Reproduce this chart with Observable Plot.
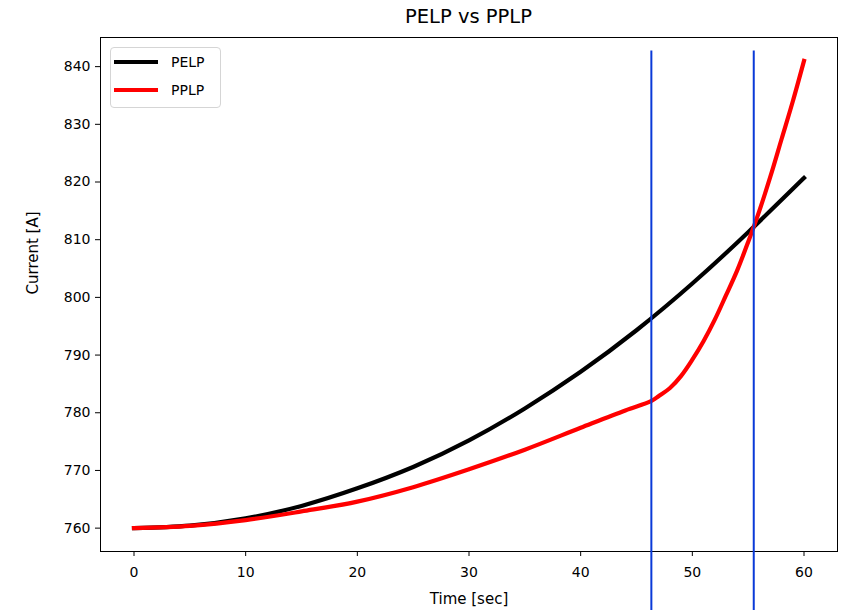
<!DOCTYPE html>
<html>
<head>
<meta charset="utf-8">
<script src="https://cdn.jsdelivr.net/npm/d3@7"></script>
<script src="https://cdn.jsdelivr.net/npm/@observablehq/plot@0.6"></script>
<style>
  body { margin: 0; background: #fff; font-family: "DejaVu Sans", sans-serif; }
  #wrap { position: relative; width: 841px; height: 610px; overflow: hidden; background: #fff; }
  #title { position: absolute; left: 100px; width: 737px; top: 4px; text-align: center; font-size: 19.5px; line-height: 26px; color: #000; }
  #chart { position: absolute; left: 0; top: 30px; }
  #legend { position: absolute; left: 110px; top: 47px; width: 111px; height: 61px; box-sizing: border-box;
            border: 1px solid #d5d5d5; border-radius: 4px; background: rgba(255,255,255,0.8); }
  .row { position: absolute; left: 0; height: 20px; width: 110px; }
  .sw { position: absolute; left: 3px; top: 8px; width: 44px; height: 4px; }
  .lab { position: absolute; left: 60px; top: 0; font-size: 14px; line-height: 20px; color: #000; }
</style>
</head>
<body>
<div id="wrap">
  <div id="title"></div>
  <div id="chart"></div>
  <div id="legend"></div>
</div>
<script>
// ---- data ----
const chartTitle = "PELP vs PPLP";
const seriesNames = ["PELP", "PPLP"];
const seriesColors = ["#000000", "#ff0000"];

const timePELP = [0, 5, 10, 15, 20, 25, 30, 35, 40, 45, 50, 55, 60];
const currentPELP = [760, 760.45, 761.7, 763.85, 766.9, 770.6, 775.2, 780.75, 787.1, 794.3, 802.4, 811.3, 820.7];

const timePPLP = [0, 5, 10, 15, 20, 25, 30, 35, 40, 44, 46.3, 47, 48, 49, 50, 51, 52, 53, 54, 55, 56, 57, 58, 59, 60];
const currentPPLP = [760, 760.4, 761.4, 762.9, 764.6, 767.1, 770.2, 773.6, 777.4, 780.4, 782.0, 782.9, 784.3, 786.4, 789.2, 792.4, 796.1, 800.3, 804.6, 809.6, 815.0, 821.0, 827.5, 834.0, 841.0];

const markerTimes = [46.33, 55.5];
const markerTop = 842.7;
const markerBottom = 740;

const xTicks = [0, 10, 20, 30, 40, 50, 60];
const yTicks = [760, 770, 780, 790, 800, 810, 820, 830, 840];
const xLabel = "Time [sec]";
const yLabel = "Current [A]";

// ---- build ----
const pelp = timePELP.map((t, i) => ({t, v: currentPELP[i]}));
const pplp = timePPLP.map((t, i) => ({t, v: currentPPLP[i]}));

document.getElementById("title").textContent = chartTitle;

const chart = Plot.plot({
  width: 841,
  height: 580,
  marginTop: 7,
  marginBottom: 59,
  marginLeft: 100,
  marginRight: 4,
  style: { fontFamily: "DejaVu Sans", fontSize: "14px", color: "#000", background: "transparent", overflow: "visible" },
  x: { domain: [-3, 63], ticks: xTicks, tickSize: 5, tickPadding: 11, label: null },
  y: { domain: [755.95, 845.05], ticks: yTicks, tickSize: 5, tickPadding: 5, label: null },
  marks: [
    Plot.line(pelp, { x: "t", y: "v", stroke: seriesColors[0], strokeWidth: 4.2, curve: "natural", strokeLinecap: "square" }),
    Plot.line(pplp, { x: "t", y: "v", stroke: seriesColors[1], strokeWidth: 4.2, curve: "catmull-rom", strokeLinecap: "square" }),
    Plot.frame({ stroke: "#000", strokeWidth: 1 }),
    Plot.ruleX(markerTimes, { x: d => d, y1: markerTop, y2: markerBottom, stroke: "#0a3ad8", strokeWidth: 2 }),
    Plot.text([xLabel], { frameAnchor: "bottom", dy: 48, text: d => d, fontSize: 15, lineAnchor: "middle", fill: "#000" }),
    Plot.text([yLabel], { frameAnchor: "left", dx: -67, rotate: -90, text: d => d, fontSize: 15, lineAnchor: "middle", fill: "#000" })
  ]
});
document.getElementById("chart").appendChild(chart);

const legend = document.getElementById("legend");
seriesNames.forEach((name, i) => {
  const row = document.createElement("div");
  row.className = "row";
  row.style.top = (4 + i * 27.5) + "px";
  const sw = document.createElement("div");
  sw.className = "sw";
  sw.style.background = seriesColors[i];
  const lab = document.createElement("div");
  lab.className = "lab";
  lab.textContent = name;
  row.appendChild(sw);
  row.appendChild(lab);
  legend.appendChild(row);
});
</script>
</body>
</html>
